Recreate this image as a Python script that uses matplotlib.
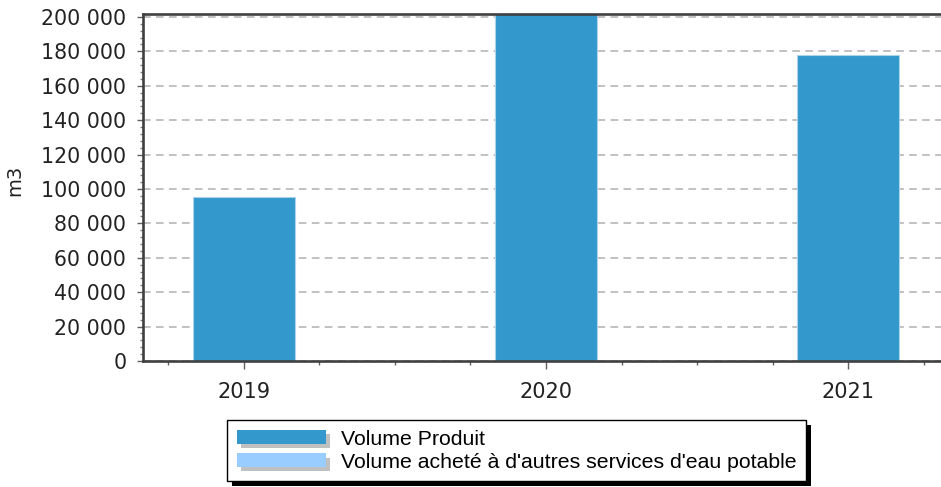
import matplotlib
matplotlib.use("Agg")
import matplotlib.pyplot as plt
import matplotlib.patheffects as pe
from matplotlib.patches import Patch
from matplotlib.ticker import FuncFormatter, MultipleLocator
import numpy as np

# values (2020 bar is cut at the top of the axes)
years = ["2019", "2020", "2021"]
volume_produit = [95500, 205000, 178000]
legend_labels = ["Volume Produit", "Volume acheté à d'autres services d'eau potable"]

BLUE = "#3398cc"
LIGHT_BLUE = "#99ccff"
SPINE = "#404040"


def fr_thousands(v, pos):
    return f"{v:,.0f}".replace(",", " ")


def main():
    W, H = 941, 487
    fig = plt.figure(figsize=(W / 100, H / 100), dpi=100)
    left, right, top, bottom = 143, 949, 14, 361
    ax = fig.add_axes([left / W, 1 - bottom / H, (right - left) / W, (bottom - top) / H])

    x = np.arange(len(years))
    ax.bar(x, volume_produit, width=0.338, color=BLUE, edgecolor="#a9d3ee",
           linewidth=0.8, zorder=2)

    ax.set_xlim(-0.334, 2.334)
    ax.set_ylim(0, 201700)

    ax.set_xticks(x)
    ax.set_xticklabels(years)
    ax.xaxis.set_minor_locator(MultipleLocator(0.25))
    ax.yaxis.set_major_locator(MultipleLocator(20000))
    ax.yaxis.set_minor_locator(MultipleLocator(4000))
    ax.yaxis.set_major_formatter(FuncFormatter(fr_thousands))

    ax.grid(axis="y", which="major", color="#b0b0b0", linestyle=(0, (5, 3.5)),
            linewidth=1.1, zorder=1)
    ax.set_axisbelow(True)

    for s in ["left", "bottom", "top"]:
        ax.spines[s].set_color(SPINE)
        ax.spines[s].set_linewidth(1.9)
    ax.spines["right"].set_visible(False)

    ax.tick_params(axis="y", which="major", length=4, width=1, color="#606060",
                   labelsize=14.8, pad=8, labelcolor="#222222")
    ax.tick_params(axis="y", which="minor", length=2.5, width=1, color="#808080")
    ax.tick_params(axis="x", which="major", length=6, width=1, color="#606060",
                   labelsize=15, pad=9, labelcolor="#222222")
    ax.tick_params(axis="x", which="minor", length=3, width=1, color="#606060")
    for lab in ax.get_yticklabels() + ax.get_xticklabels():
        lab.set_family("DejaVu Sans")

    ax.set_ylabel("m3", fontsize=14, family="DejaVu Sans", color="#222222")
    ax.yaxis.set_label_coords(-0.147, 0.52)

    shadow = [pe.withSimplePatchShadow(offset=(3, -3), shadow_rgbFace="#c0c0c0", alpha=1)]
    handles = [Patch(facecolor=BLUE, edgecolor="none", path_effects=shadow),
               Patch(facecolor=LIGHT_BLUE, edgecolor="none", path_effects=shadow)]
    leg = fig.legend(handles, legend_labels, loc="upper left",
                     bbox_to_anchor=(227 / W, 1 - 420 / H), bbox_transform=fig.transFigure,
                     borderaxespad=0, fancybox=False, framealpha=1, edgecolor="black",
                     prop={"family": "Liberation Sans", "size": 15.3},
                     handlelength=4.2, handleheight=0.62, handletextpad=0.7,
                     labelspacing=0.2, borderpad=0.45)
    leg.get_frame().set_linewidth(1.0)
    leg.get_frame().set_path_effects([pe.withSimplePatchShadow(offset=(3.5, -3.5),
                                                               shadow_rgbFace="black", alpha=1)])

    fig.savefig("out.png", dpi=100)


if __name__ == "__main__":
    main()
